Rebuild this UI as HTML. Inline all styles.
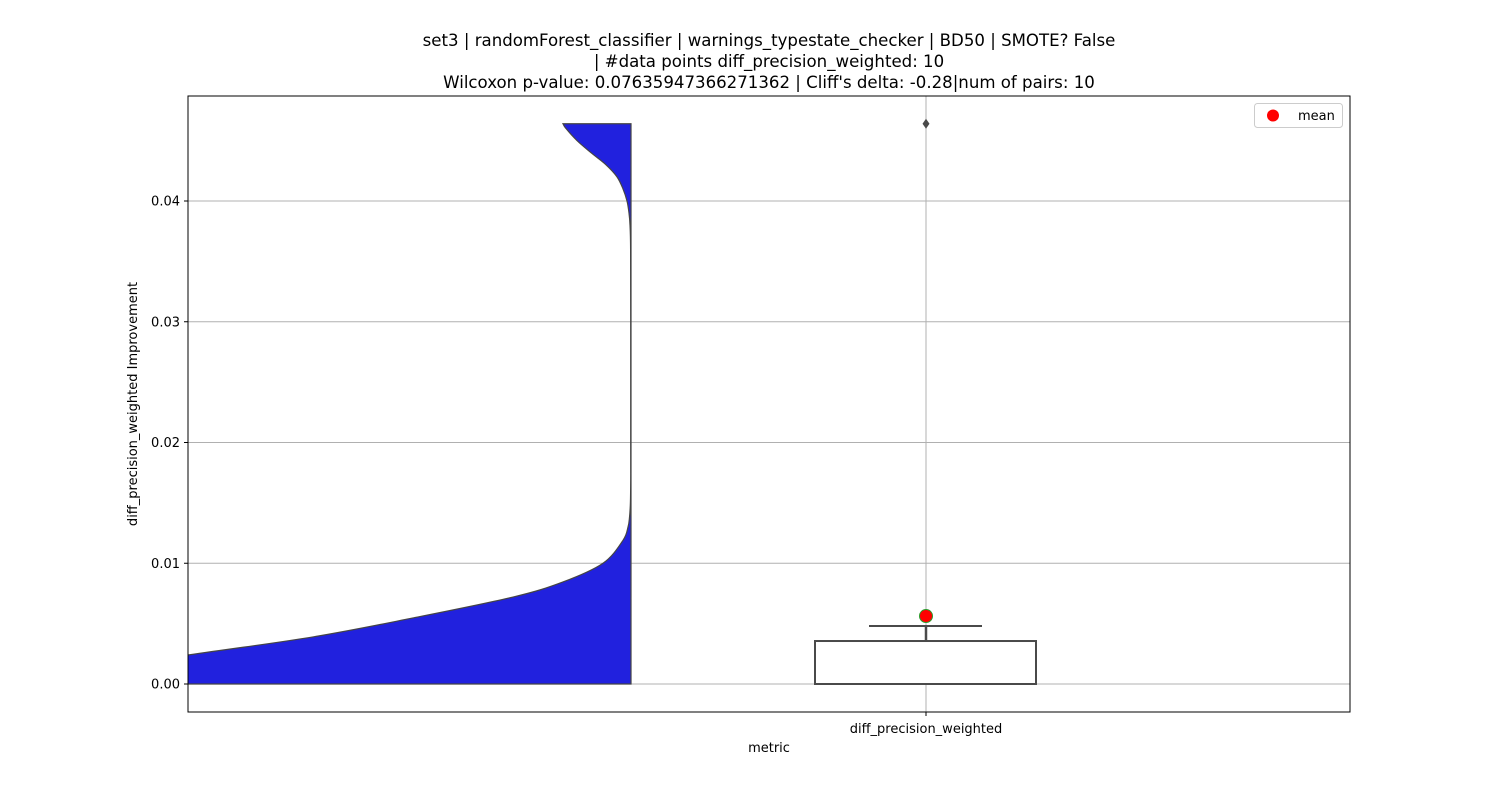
<!DOCTYPE html>
<html><head><meta charset="utf-8"><style>
body{margin:0;background:#fff;font-family:"DejaVu Sans","Liberation Sans",sans-serif}
svg text{font-family:"DejaVu Sans","Liberation Sans",sans-serif}
</style></head><body>
<svg id="chart" width="1500" height="800" xmlns="http://www.w3.org/2000/svg">
<defs><clipPath id="pc"><rect x="188" y="96" width="1162" height="616"/></clipPath></defs>
<text x="769" y="46" font-size="16.6" text-anchor="middle">set3 | randomForest_classifier | warnings_typestate_checker | BD50 | SMOTE? False</text>
<text x="769" y="67" font-size="16.6" text-anchor="middle">| #data points diff_precision_weighted: 10</text>
<text x="769" y="88" font-size="16.6" text-anchor="middle">Wilcoxon p-value: 0.07635947366271362 | Cliff's delta: -0.28|num of pairs: 10</text>
<g id="grid"></g>
<g id="marks" clip-path="url(#pc)"></g>
<rect x="188" y="96" width="1162" height="616" fill="none" stroke="#000" stroke-width="1"/>
<g id="axes"></g>
<text x="769" y="752" font-size="13" text-anchor="middle">metric</text>
<text transform="translate(137,404) rotate(-90)" font-size="13" text-anchor="middle">diff_precision_weighted Improvement</text>
<g>
<rect x="1254.5" y="103.5" width="88" height="24" rx="3" fill="#fff" stroke="#ccc"/>
<circle cx="1273" cy="115.5" r="6" fill="red"/>
<text x="1298" y="120" font-size="13">mean</text>
</g>
</svg>
<script>
const yTicks=[0,0.01,0.02,0.03,0.04];
const yTickLabels=["0.00","0.01","0.02","0.03","0.04"];
const categories=["diff_precision_weighted"];
const violinY=[0,0.0024,0.0039,0.00547,0.0072,0.00845,0.0100,0.0119,0.0130,0.0138,0.0150,0.0169,0.02,0.03,0.036,0.038,0.039,0.040,0.041,0.042,0.043,0.044,0.045,0.046,0.0464];
const violinW=[640,443,318,218,118,68,28,8,3,1.5,0.6,0.3,0.3,0.3,0.4,1,2,4,8,14,25,40,54,65,68];
const boxStats=[0,0,0.00356,0.0048];
const meanValue=[0.00563];
const outliers=[0.0464];
const NS="http://www.w3.org/2000/svg";
function Y(v){return 684-v*12075;}
const catX=926, violinX=631;
const grid=document.getElementById('grid'), marks=document.getElementById('marks'), axes=document.getElementById('axes');
function mk(p,tag,a){const e=document.createElementNS(NS,tag);for(const k in a)e.setAttribute(k,a[k]);p.appendChild(e);return e;}
yTicks.forEach((t,i)=>{
 const l=mk(grid,'line',{x1:188,x2:1350,y1:Y(t),y2:Y(t),stroke:'#b0b0b0','stroke-width':1});
 
 
 mk(axes,'line',{x1:184,x2:188,y1:Y(t),y2:Y(t),stroke:'#000'});
 const tx=mk(axes,'text',{x:180,y:Y(t)+4.5,'font-size':13,'text-anchor':'end'});
 tx.textContent=yTickLabels[i];
 
 
});
categories.forEach(c=>{
 const l=mk(grid,'line',{x1:catX,x2:catX,y1:96,y2:712,stroke:'#b0b0b0','stroke-width':1});
 
 
 mk(axes,'line',{x1:catX,x2:catX,y1:712,y2:716,stroke:'#000'});
 const tx=mk(axes,'text',{x:catX,y:733,'font-size':13,'text-anchor':'middle'});
 tx.textContent=c;
 
 
});
// violin (Catmull-Rom smoothed)
const pts=violinY.map((v,i)=>[violinX-violinW[i],Y(v)]);
let d='M'+violinX+','+Y(violinY[0])+' L'+pts[0][0]+','+pts[0][1];
for(let i=0;i<pts.length-1;i++){
 const p0=pts[Math.max(0,i-1)],p1=pts[i],p2=pts[i+1],p3=pts[Math.min(pts.length-1,i+2)];
 const c1=[p1[0]+(p2[0]-p0[0])/6,p1[1]+(p2[1]-p0[1])/6];
 const c2=[p2[0]-(p3[0]-p1[0])/6,p2[1]-(p3[1]-p1[1])/6];
 c1[0]=Math.min(c1[0],violinX);c2[0]=Math.min(c2[0],violinX);
 d+=` C${c1[0]},${c1[1]} ${c2[0]},${c2[1]} ${p2[0]},${p2[1]}`;
}
d+=' L'+violinX+','+Y(violinY[violinY.length-1])+' Z';
const vp=mk(marks,'path',{d:d,fill:'#2121de',stroke:'#444','stroke-width':1.2});


// box
const [mn,med,q3,wh]=boxStats;
const bx=mk(marks,'rect',{x:815,y:Y(q3),width:221,height:Y(boxStats[0])-Y(q3),fill:'#fff',stroke:'#4a4a4a','stroke-width':2});


const md=mk(marks,'line',{x1:815,x2:1036,y1:Y(med),y2:Y(med),stroke:'#4a4a4a','stroke-width':2});


const w=mk(marks,'line',{x1:catX,x2:catX,y1:Y(q3),y2:Y(wh),stroke:'#4a4a4a','stroke-width':2.5});


const cap=mk(marks,'line',{x1:869,x2:982,y1:Y(wh),y2:Y(wh),stroke:'#4a4a4a','stroke-width':2});


outliers.forEach(o=>{
 const p=mk(marks,'path',{d:`M${catX},${Y(o)-5} L${catX+3.5},${Y(o)} L${catX},${Y(o)+5} L${catX-3.5},${Y(o)} Z`,fill:'#4a4a4a'});
 
 
});
meanValue.forEach(m=>{
 const c=mk(marks,'circle',{cx:catX,cy:Y(m),r:6.5,fill:'red',stroke:'#2a9a2a','stroke-width':1});
 
 
});
</script>
</body></html>
